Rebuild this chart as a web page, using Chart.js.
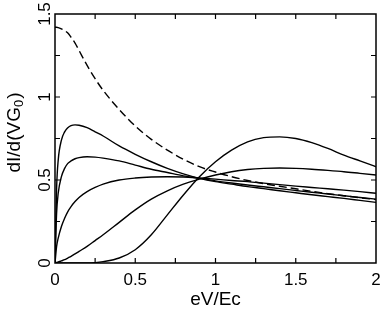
<!DOCTYPE html>
<html><head><meta charset="utf-8">
<script src="https://cdn.jsdelivr.net/npm/chart.js@4.4.1/dist/chart.umd.min.js"></script>
<style>html,body{margin:0;padding:0;background:#fff}</style>
</head><body>
<canvas id="c" width="382" height="311"></canvas>
<script>
// eV/Ec sample positions
const xs = [0, 0.01, 0.02, 0.04, 0.06, 0.08, 0.1, 0.125, 0.15, 0.2, 0.25, 0.3, 0.4, 0.5, 0.6, 0.7, 0.8, 0.9, 1.0, 1.1, 1.2, 1.3, 1.4, 1.5, 1.6, 1.7, 1.8, 1.9, 2.0];
// dashed curve
const dashedCurve = [1.42, 1.42, 1.418, 1.41, 1.40, 1.385, 1.36, 1.325, 1.28, 1.19, 1.11, 1.04, 0.925, 0.825, 0.745, 0.68, 0.625, 0.58, 0.548, 0.52, 0.497, 0.478, 0.462, 0.447, 0.432, 0.418, 0.405, 0.393, 0.382];
// solid curves
const curveA = [0, 0.45, 0.62, 0.74, 0.79, 0.815, 0.828, 0.832, 0.83, 0.815, 0.79, 0.765, 0.705, 0.655, 0.61, 0.57, 0.537, 0.51, 0.49, 0.475, 0.46, 0.448, 0.435, 0.423, 0.411, 0.4, 0.389, 0.377, 0.365];
const curveB = [0, 0.30, 0.42, 0.52, 0.57, 0.60, 0.615, 0.628, 0.635, 0.64, 0.638, 0.632, 0.615, 0.59, 0.565, 0.545, 0.525, 0.51, 0.495, 0.482, 0.47, 0.459, 0.448, 0.437, 0.426, 0.416, 0.405, 0.395, 0.385];
const curveC = [0, 0.10, 0.15, 0.22, 0.27, 0.31, 0.34, 0.37, 0.395, 0.43, 0.455, 0.475, 0.50, 0.512, 0.518, 0.52, 0.518, 0.512, 0.505, 0.497, 0.49, 0.481, 0.472, 0.463, 0.455, 0.447, 0.439, 0.43, 0.42];
const curveD = [0, 0.003, 0.006, 0.013, 0.02, 0.03, 0.04, 0.055, 0.07, 0.10, 0.135, 0.17, 0.245, 0.32, 0.385, 0.435, 0.475, 0.505, 0.53, 0.55, 0.563, 0.57, 0.572, 0.57, 0.565, 0.558, 0.55, 0.54, 0.53];
const curveE = [0, 0, 0, 0, 0, 0, 0, 0, 0, 0, 0.002, 0.008, 0.03, 0.08, 0.17, 0.29, 0.41, 0.52, 0.61, 0.68, 0.73, 0.755, 0.76, 0.75, 0.725, 0.69, 0.65, 0.615, 0.58];
// tick labels and tick marks
const xTickLabels = ["0", "0.5", "1", "1.5", "2"];
const yTickValues = [0, 0.5, 1, 1.5];
const yTickLabels = ["0", "0.5", "1", "1.5"];
const xTickMarks = [0.25, 0.5, 0.75, 1, 1.25, 1.5, 1.75];
const yTickMarks = [0.25, 0.5, 0.75, 1, 1.25];
// axis titles
const xTitle = 'eV/Ec';
const yTitleMain = 'dI/d(VG';
const yTitleSub = '0';
const yTitleEnd = ')';

const pts = arr => xs.map((x, i) => ({x: x, y: arr[i]}));
const solid = arr => ({data: pts(arr), borderColor: '#000', borderWidth: 1.4, pointRadius: 0, cubicInterpolationMode: 'monotone', fill: false});
const FONT = '"Liberation Sans", Arial, sans-serif';

const frameTicks = {
  id: 'frameTicks',
  afterDatasetsDraw(chart) {
    const {ctx, chartArea: a, scales: {x, y}} = chart;
    ctx.save();
    ctx.strokeStyle = '#000';
    ctx.lineWidth = 1.5;
    ctx.strokeRect(a.left, a.top, a.right - a.left, a.bottom - a.top);
    ctx.lineWidth = 1.2;
    const L = 5;
    ctx.beginPath();
    xTickMarks.forEach(v => {
      const p = x.getPixelForValue(v);
      ctx.moveTo(p, a.bottom); ctx.lineTo(p, a.bottom - L);
      ctx.moveTo(p, a.top); ctx.lineTo(p, a.top + L);
    });
    yTickMarks.forEach(v => {
      const p = y.getPixelForValue(v);
      ctx.moveTo(a.left, p); ctx.lineTo(a.left + L, p);
      ctx.moveTo(a.right, p); ctx.lineTo(a.right - L, p);
    });
    ctx.stroke();

    // rotated y tick labels
    ctx.fillStyle = '#000';
    ctx.font = '17px ' + FONT;
    ctx.textAlign = 'center';
    ctx.textBaseline = 'middle';
    yTickValues.forEach((v, i) => {
      const w = ctx.measureText(yTickLabels[i]).width;
      const p = Math.max(y.getPixelForValue(v), w / 2);
      ctx.save();
      ctx.translate(a.left - 11, p);
      ctx.rotate(-Math.PI / 2);
      ctx.fillText(yTickLabels[i], 0, 1);
      ctx.restore();
    });

    // rotated y title with subscript
    ctx.save();
    ctx.translate(15, (a.top + a.bottom) / 2 - 6);
    ctx.rotate(-Math.PI / 2);
    ctx.textAlign = 'left';
    ctx.textBaseline = 'middle';
    ctx.font = '19px ' + FONT;
    const w1 = ctx.measureText(yTitleMain).width;
    const w3 = ctx.measureText(yTitleEnd).width;
    ctx.font = '13px ' + FONT;
    const w2 = ctx.measureText(yTitleSub).width + 1;
    let sx = -(w1 + w2 + w3) / 2;
    ctx.font = '19px ' + FONT;
    ctx.fillText(yTitleMain, sx, 0);
    ctx.font = '13px ' + FONT;
    ctx.fillText(yTitleSub, sx + w1, 4);
    ctx.font = '19px ' + FONT;
    ctx.fillText(yTitleEnd, sx + w1 + w2, 0);
    ctx.restore();
    ctx.restore();
  }
};

new Chart(document.getElementById('c'), {
  type: 'line',
  data: {
    datasets: [
      Object.assign(solid(dashedCurve), {borderDash: [8, 4]}),
      solid(curveA), solid(curveB), solid(curveC), solid(curveD), solid(curveE)
    ]
  },
  options: {
    responsive: false,
    devicePixelRatio: 1,
    animation: false,
    layout: {padding: {top: 14, right: 6, left: 0, bottom: 0}},
    plugins: {legend: {display: false}, tooltip: {enabled: false}},
    scales: {
      x: {
        type: 'linear', min: 0, max: 2,
        grid: {display: false, drawTicks: false},
        border: {display: false},
        ticks: {stepSize: 0.5, padding: 7, color: '#000', font: {family: 'Liberation Sans', size: 17},
          callback: (v) => xTickLabels[Math.round(v / 0.5)] },
        title: {display: true, text: xTitle, color: '#000', font: {family: 'Liberation Sans', size: 19}, padding: {top: 0, bottom: 0}},
        afterFit: s => { s.height = 48; s.paddingLeft = 0; s.paddingRight = 0; }
      },
      y: {
        type: 'linear', min: 0, max: 1.5,
        grid: {display: false, drawTicks: false},
        border: {display: false},
        ticks: {display: false, stepSize: 0.5},
        afterFit: s => { s.width = 55; s.paddingTop = 0; s.paddingBottom = 0; }
      }
    }
  },
  plugins: [frameTicks]
});
</script>
</body></html>
